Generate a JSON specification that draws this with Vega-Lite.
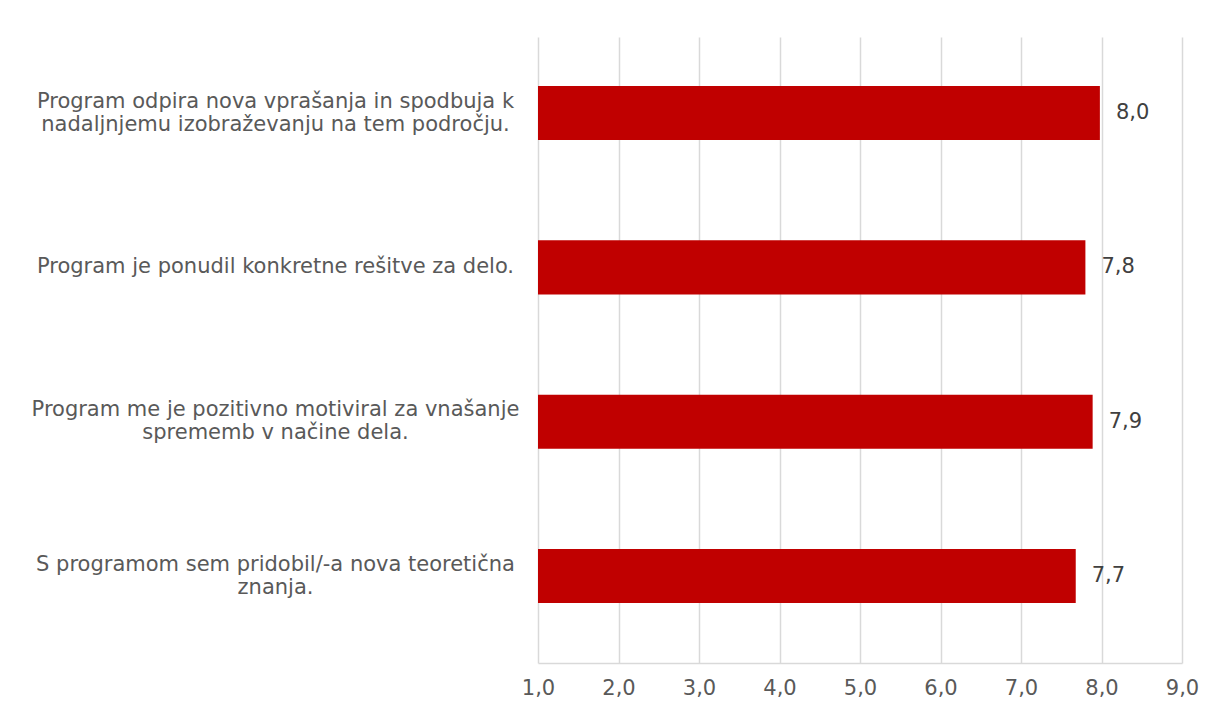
{
  "$schema": "https://vega.github.io/schema/vega-lite/v6.json",
  "autosize": "none",
  "width": 644,
  "height": 626,
  "padding": {"left": 538, "top": 37, "right": 43, "bottom": 47},
  "background": "white",
  "config": {
    "locale": {"number": {"decimal": ",", "thousands": ".", "grouping": [3], "currency": ["", " €"]}},
    "view": {"stroke": null},
    "font": "DejaVu Sans"
  },
  "data": {
    "values": [
      {"q": "Program odpira nova vprašanja in spodbuja k|nadaljnjemu izobraževanju na tem področju.", "v": 7.98, "o": 1},
      {"q": "Program je ponudil konkretne rešitve za delo.", "v": 7.80, "o": 2},
      {"q": "Program me je pozitivno motiviral za vnašanje|sprememb v načine dela.", "v": 7.89, "o": 3},
      {"q": "S programom sem pridobil/-a nova teoretična|znanja.", "v": 7.68, "o": 4}
    ]
  },
  "encoding": {
    "y": {
      "field": "q", "type": "nominal", "sort": {"field": "o"}, "title": null,
      "scale": {"paddingInner": 0.65, "paddingOuter": 0.353, "align": 0.45},
      "axis": {
        "labelExpr": "split(datum.label, '|')",
        "labelAlign": "center", "labelPadding": 263, "ticks": false, "domain": false,
        "labelOffset": {"condition": {"test": "indexof(datum.value, '|') >= 0", "value": -11.5}, "value": 0},
        "labelFont": "DejaVu Sans", "labelFontSize": 21, "labelColor": "#595959",
        "labelLineHeight": 23, "labelLimit": 600
      }
    },
    "x": {
      "field": "v", "type": "quantitative", "title": null,
      "scale": {"domain": [1, 9], "zero": false, "nice": false},
      "axis": {
        "values": [1, 2, 3, 4, 5, 6, 7, 8, 9], "format": ".1f",
        "grid": true, "gridColor": "#d9d9d9", "gridWidth": 1.5,
        "domainColor": "#d9d9d9", "domainWidth": 1.5, "ticks": false,
        "labelFlush": false,
        "labelFont": "DejaVu Sans", "labelFontSize": 21, "labelColor": "#595959",
        "labelPadding": 14
      }
    }
  },
  "layer": [
    {"mark": {"type": "bar", "color": "#C00000"}, "encoding": {"x2": {"datum": 1}}},
    {
      "mark": {"type": "text", "align": "left", "dx": 16, "fontSize": 21, "color": "#404040", "font": "DejaVu Sans"},
      "encoding": {"text": {"field": "v", "type": "quantitative", "format": ".1f"}}
    }
  ]
}
